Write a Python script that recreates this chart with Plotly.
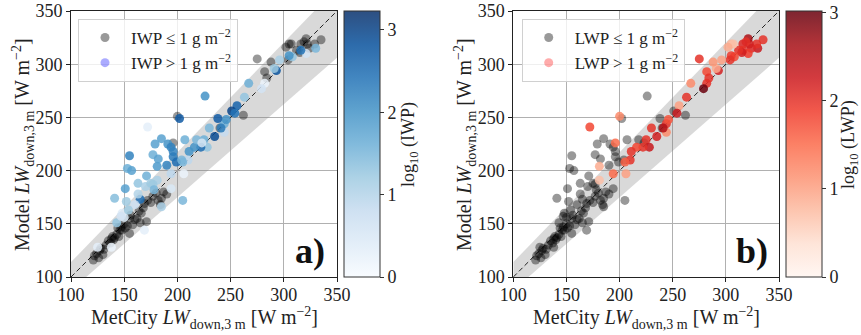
import plotly.graph_objects as go

# ---------------- data ----------------
# MetCity observed LW_down (x), model LW_down (y), log10(IWP), log10(LWP)
# log values <= 0 mean "<= 1 g m-2" (drawn grey)
metcity = [335, 330, 329, 324, 322, 321, 321, 319, 316, 316, 315, 312, 308, 305, 307, 305, 302, 304, 296, 293,
           291, 288, 275, 282, 284, 282, 279, 267, 263, 256, 251, 254, 262, 244, 246, 244, 238, 240, 241, 235,
           230, 225, 228, 222, 216, 211, 210, 205, 206, 194, 196, 200, 172, 181, 181,
           226, 202, 185, 179, 191, 194, 196, 177, 155, 182, 190, 153, 157, 171, 151, 163, 170, 141, 152, 165,
           177, 205, 185, 143, 169, 196, 199, 204, 207, 218, 223, 194, 163, 175, 178, 160, 150, 148,
           121, 124, 126, 128, 130, 133, 137, 140, 141, 135, 145, 146, 148, 151, 155, 153, 158, 160, 162, 156,
           165, 166, 168, 171, 169, 172, 177, 180, 182, 185, 187, 190, 143, 138, 127, 122, 150, 164, 175, 184,
           147, 155, 131, 139, 144, 125, 138, 154, 147]
model = [323, 315, 319, 315, 319, 324, 310, 321, 319, 313, 311, 313, 307, 319, 319, 308, 316, 304, 304, 294,
         296, 302, 305, 293, 287, 282, 277, 282, 269, 261, 256, 254, 252, 244, 248, 236, 249, 240, 240, 232,
         240, 229, 222, 222, 222, 218, 210, 208, 197, 197, 226, 251, 241, 204, 191,
         270, 249, 230, 225, 225, 222, 218, 215, 214, 211, 205, 202, 200, 195, 183, 188, 185, 174, 171, 173,
         187, 172, 166, 151, 144, 213, 208, 210, 229, 229, 226, 183, 178, 188, 182, 168, 156, 160,
         116, 122, 118, 127, 121, 130, 132, 135, 137, 134, 138, 144, 144, 146, 141, 148, 149, 154, 155, 158,
         151, 160, 165, 152, 169, 172, 176, 179, 172, 174, 180, 178, 140, 136, 125, 120, 150, 162, 170, 168,
         147, 155, 126, 138, 146, 128, 128, 163, 157]
log_iwp = [-1, 1.5, -1, -1, -1, -1, 0.6, -1, -1, 2.4, -1, -1, 1.3, -1, -1, 2.0, -1, -1, 1.1, 2.8,
           1.2, -1, -1, -1, -1, 0.2, 0.6, 1.6, 1.3, 2.6, 3.0, 2.4, -1, 1.6, 2.0, 0.8, 2.7, -1, 2.3, 2.9,
           1.5, 1.6, 1.3, 2.5, 2.0, 2.0, 0.9, 1.5, 0.2, 0.9, -1, -1, 0.3, 1.9, 1.1,
           2.0, 2.7, 1.8, 1.8, 2.0, 2.2, 2.2, 1.6, 2.2, 1.8, 2.2, 1.6, 1.8, 1.6, 1.8, 1.3, 1.1, 1.4, 1.2, 2.5,
           1.2, 1.5, 1.1, 1.3, 0.3, 2.3, 2.5, 1.5, 1.6, 1.5, 0.5, 0.5, 1.0, 1.2, 1.5, 0.7, 0.5, 0.4,
           -1, -1, -1, -1, -1, -1, -1, -1, -1, -1, -1, -1, -1, -1, -1, -1, -1, -1, -1, -1,
           -1, -1, -1, -1, -1, -1, -1, -1, -1, -1, -1, -1, -1, -1, -1, -1, -1, -1, -1, -1,
           -1, -1, -1, -1, -1, 0.3, 0.2, 1.2, 0.6]
log_lwp = [2.0, 2.3, 2.0, 2.1, 2.2, 2.6, 1.9, 2.0, 2.1, 2.0, 2.2, 2.0, 1.8, 0.8, 0.7, 1.9, 0.9, 2.0, 1.0, 2.2,
           0.9, 1.1, 2.0, 1.8, 2.0, 2.0, 3.0, 1.2, 2.0, 1.0, -1, 2.3, -1, 2.0, 1.7, 1.2, -1, -1, 2.5, 2.2,
           2.0, 2.0, 2.3, 2.0, 1.8, 2.0, 2.0, 1.6, 1.0, 1.5, 1.5, 1.2, 1.8, 0.9, 0.7,
           -1, -1, -1, -1, -1, -1, -1, -1, -1, -1, -1, -1, -1, -1, -1, -1, -1, -1, -1, -1,
           -1, -1, -1, -1, -1, -1, -1, -1, -1, -1, -1, -1, -1, -1, -1, -1, -1, -1,
           -1, -1, -1, -1, -1, -1, -1, -1, -1, -1, -1, -1, -1, -1, -1, -1, -1, -1, -1, -1,
           -1, -1, -1, -1, -1, -1, -1, -1, -1, -1, -1, -1, -1, -1, -1, -1, -1, -1, -1, -1,
           -1, -1, -1, -1, -1, -1, -1, -1, -1]

band_x = [100, 350]
band_lo = [87.5, 306]
band_hi = [114, 372]
iwp_max = 3.23
lwp_max = 3.02
ticks = [100, 150, 200, 250, 300, 350]
cb_ticks = [0, 1, 2, 3]

FONT = "Liberation Serif"
W, H = 861, 335

blues = ["#f7fbff", "#deebf7", "#c6dbef", "#9ecae1", "#6baed6", "#4292c6", "#2171b5", "#08519c", "#08306b"]
reds = ["#fff5f0", "#fee0d2", "#fcbba1", "#fc9272", "#fb6a4a", "#ef3b2c", "#cb181d", "#a50f15", "#67000d"]


def rgba_scale(hexes, a):
    out = []
    n = len(hexes) - 1
    for i, h in enumerate(hexes):
        r, g, b = int(h[1:3], 16), int(h[3:5], 16), int(h[5:7], 16)
        out.append([i / n, f"rgba({r},{g},{b},{a})"])
    return out


fig = go.Figure()

panels = [
    dict(xa="x", ya="y", vals=log_iwp, name="IWP", scale=rgba_scale(blues, 0.85), cmax=iwp_max,
         legend="legend", proxy="rgba(0,0,255,0.33)", cbx=344, label="a)"),
    dict(xa="x2", ya="y2", vals=log_lwp, name="LWP", scale=rgba_scale(reds, 0.85), cmax=lwp_max,
         legend="legend2", proxy="rgba(255,0,0,0.33)", cbx=786, label="b)"),
]

for p in panels:
    # band
    fig.add_trace(go.Scatter(x=band_x + band_x[::-1], y=band_hi + band_lo[::-1], fill="toself",
                             fillcolor="rgba(128,128,128,0.3)", line=dict(width=0), mode="lines",
                             hoverinfo="skip", showlegend=False, xaxis=p["xa"], yaxis=p["ya"]))
    # 1:1 line
    fig.add_trace(go.Scatter(x=[ticks[0], ticks[-1]], y=[ticks[0], ticks[-1]], mode="lines",
                             line=dict(color="#222", width=1, dash="5px,3px"), showlegend=False,
                             xaxis=p["xa"], yaxis=p["ya"]))
    gx = [a for a, v in zip(metcity, p["vals"]) if v <= 0]
    gy = [b for b, v in zip(model, p["vals"]) if v <= 0]
    cx = [a for a, v in zip(metcity, p["vals"]) if v > 0]
    cy = [b for b, v in zip(model, p["vals"]) if v > 0]
    cv = [v for v in p["vals"] if v > 0]
    fig.add_trace(go.Scatter(x=gx, y=gy, mode="markers",
                             marker=dict(size=9, color="rgba(0,0,0,0.4)", line=dict(width=0)),
                             name=f"{p['name']} ≤ 1 g m<sup>−2</sup>", legend=p["legend"],
                             xaxis=p["xa"], yaxis=p["ya"]))
    fig.add_trace(go.Scatter(x=cx, y=cy, mode="markers", showlegend=False,
                             marker=dict(size=9, color=cv, colorscale=p["scale"], cmin=0, cmax=p["cmax"],
                                         line=dict(width=0),
                                         colorbar=dict(x=p["cbx"] / W, xanchor="left", xpad=0, ypad=0,
                                                       y=(H - 11) / H, yanchor="top",
                                                       len=266, lenmode="pixels",
                                                       thickness=36, thicknessmode="pixels",
                                                       outlinewidth=1, outlinecolor="#333",
                                                       ticks="outside", ticklen=4, tickcolor="#333",
                                                       tickvals=cb_ticks,
                                                       tickfont=dict(family=FONT, size=18, color="#222"))),
                             xaxis=p["xa"], yaxis=p["ya"]))
    fig.add_trace(go.Scatter(x=[None], y=[None], mode="markers",
                             marker=dict(size=9, color=p["proxy"]),
                             name=f"{p['name']} > 1 g m<sup>−2</sup>", legend=p["legend"],
                             xaxis=p["xa"], yaxis=p["ya"]))

ydom = [(H - 277) / H, (H - 11) / H]
axis_common = dict(range=[100, 350], tickvals=ticks, showgrid=True, gridcolor="#b0b0b0", gridwidth=1,
                   showline=True, linecolor="#222", linewidth=1, mirror=True, ticks="outside", ticklen=4,
                   tickcolor="#222", tickfont=dict(family=FONT, size=18, color="#222"), zeroline=False,
                   automargin=False)

fig.update_layout(
    width=W, height=H, margin=dict(l=0, r=0, t=0, b=0, pad=0, autoexpand=False), autosize=False,
    paper_bgcolor="white", plot_bgcolor="white",
    font=dict(family=FONT, color="#222"),
    xaxis=dict(domain=[71 / W, 337 / W], anchor="y", ticklabelstandoff=-3, **axis_common),
    yaxis=dict(domain=ydom, anchor="x", **axis_common),
    xaxis2=dict(domain=[513.3 / W, 779 / W], anchor="y2", ticklabelstandoff=-3, **axis_common),
    yaxis2=dict(domain=ydom, anchor="x2", **axis_common),
    legend=dict(x=78 / W, y=(H - 19) / H, xanchor="left", yanchor="top", itemwidth=42,
                bgcolor="rgba(255,255,255,0.8)", bordercolor="#d0d0d0", borderwidth=1,
                font=dict(family=FONT, size=17, color="#222"), tracegroupgap=0),
    legend2=dict(x=521.7 / W, y=(H - 19) / H, xanchor="left", yanchor="top", itemwidth=42,
                 bgcolor="rgba(255,255,255,0.8)", bordercolor="#d0d0d0", borderwidth=1,
                 font=dict(family=FONT, size=17, color="#222"), tracegroupgap=0),
    showlegend=True,
)

title_font = dict(family=FONT, size=20, color="#222")
xt = "MetCity <i>LW</i><sub>down,3 m</sub> [W m<sup>−2</sup>]"
yt = "Model <i>LW</i><sub>down,3 m</sub> [W m<sup>−2</sup>]"
for cx_px, ycx_px, cbt_px, xa, ya, lab, nm in [(204, 23, 409, "x", "y", "a)", "IWP"),
                                               (646, 465, 849, "x2", "y2", "b)", "LWP")]:
    fig.add_annotation(text=xt, x=cx_px / W, y=(H - 318) / H, xref="paper", yref="paper",
                       xanchor="center", yanchor="middle", showarrow=False, font=title_font)
    fig.add_annotation(text=yt, x=ycx_px / W, y=(H - 145) / H, xref="paper", yref="paper",
                       xanchor="center", yanchor="middle", textangle=-90, showarrow=False, font=title_font)
    fig.add_annotation(text=f"log<sub>10</sub> ({nm})", x=cbt_px / W, y=(H - 145) / H, xref="paper",
                       yref="paper", xanchor="center", yanchor="middle", textangle=-90, showarrow=False,
                       font=dict(family=FONT, size=18, color="#222"))
    fig.add_annotation(text=f"<b>{lab}</b>", x=324.5, y=124, xref=xa, yref=ya, xanchor="center",
                       yanchor="middle", showarrow=False, font=dict(family=FONT, size=36, color="#111"))

fig.write_html("out.html")
